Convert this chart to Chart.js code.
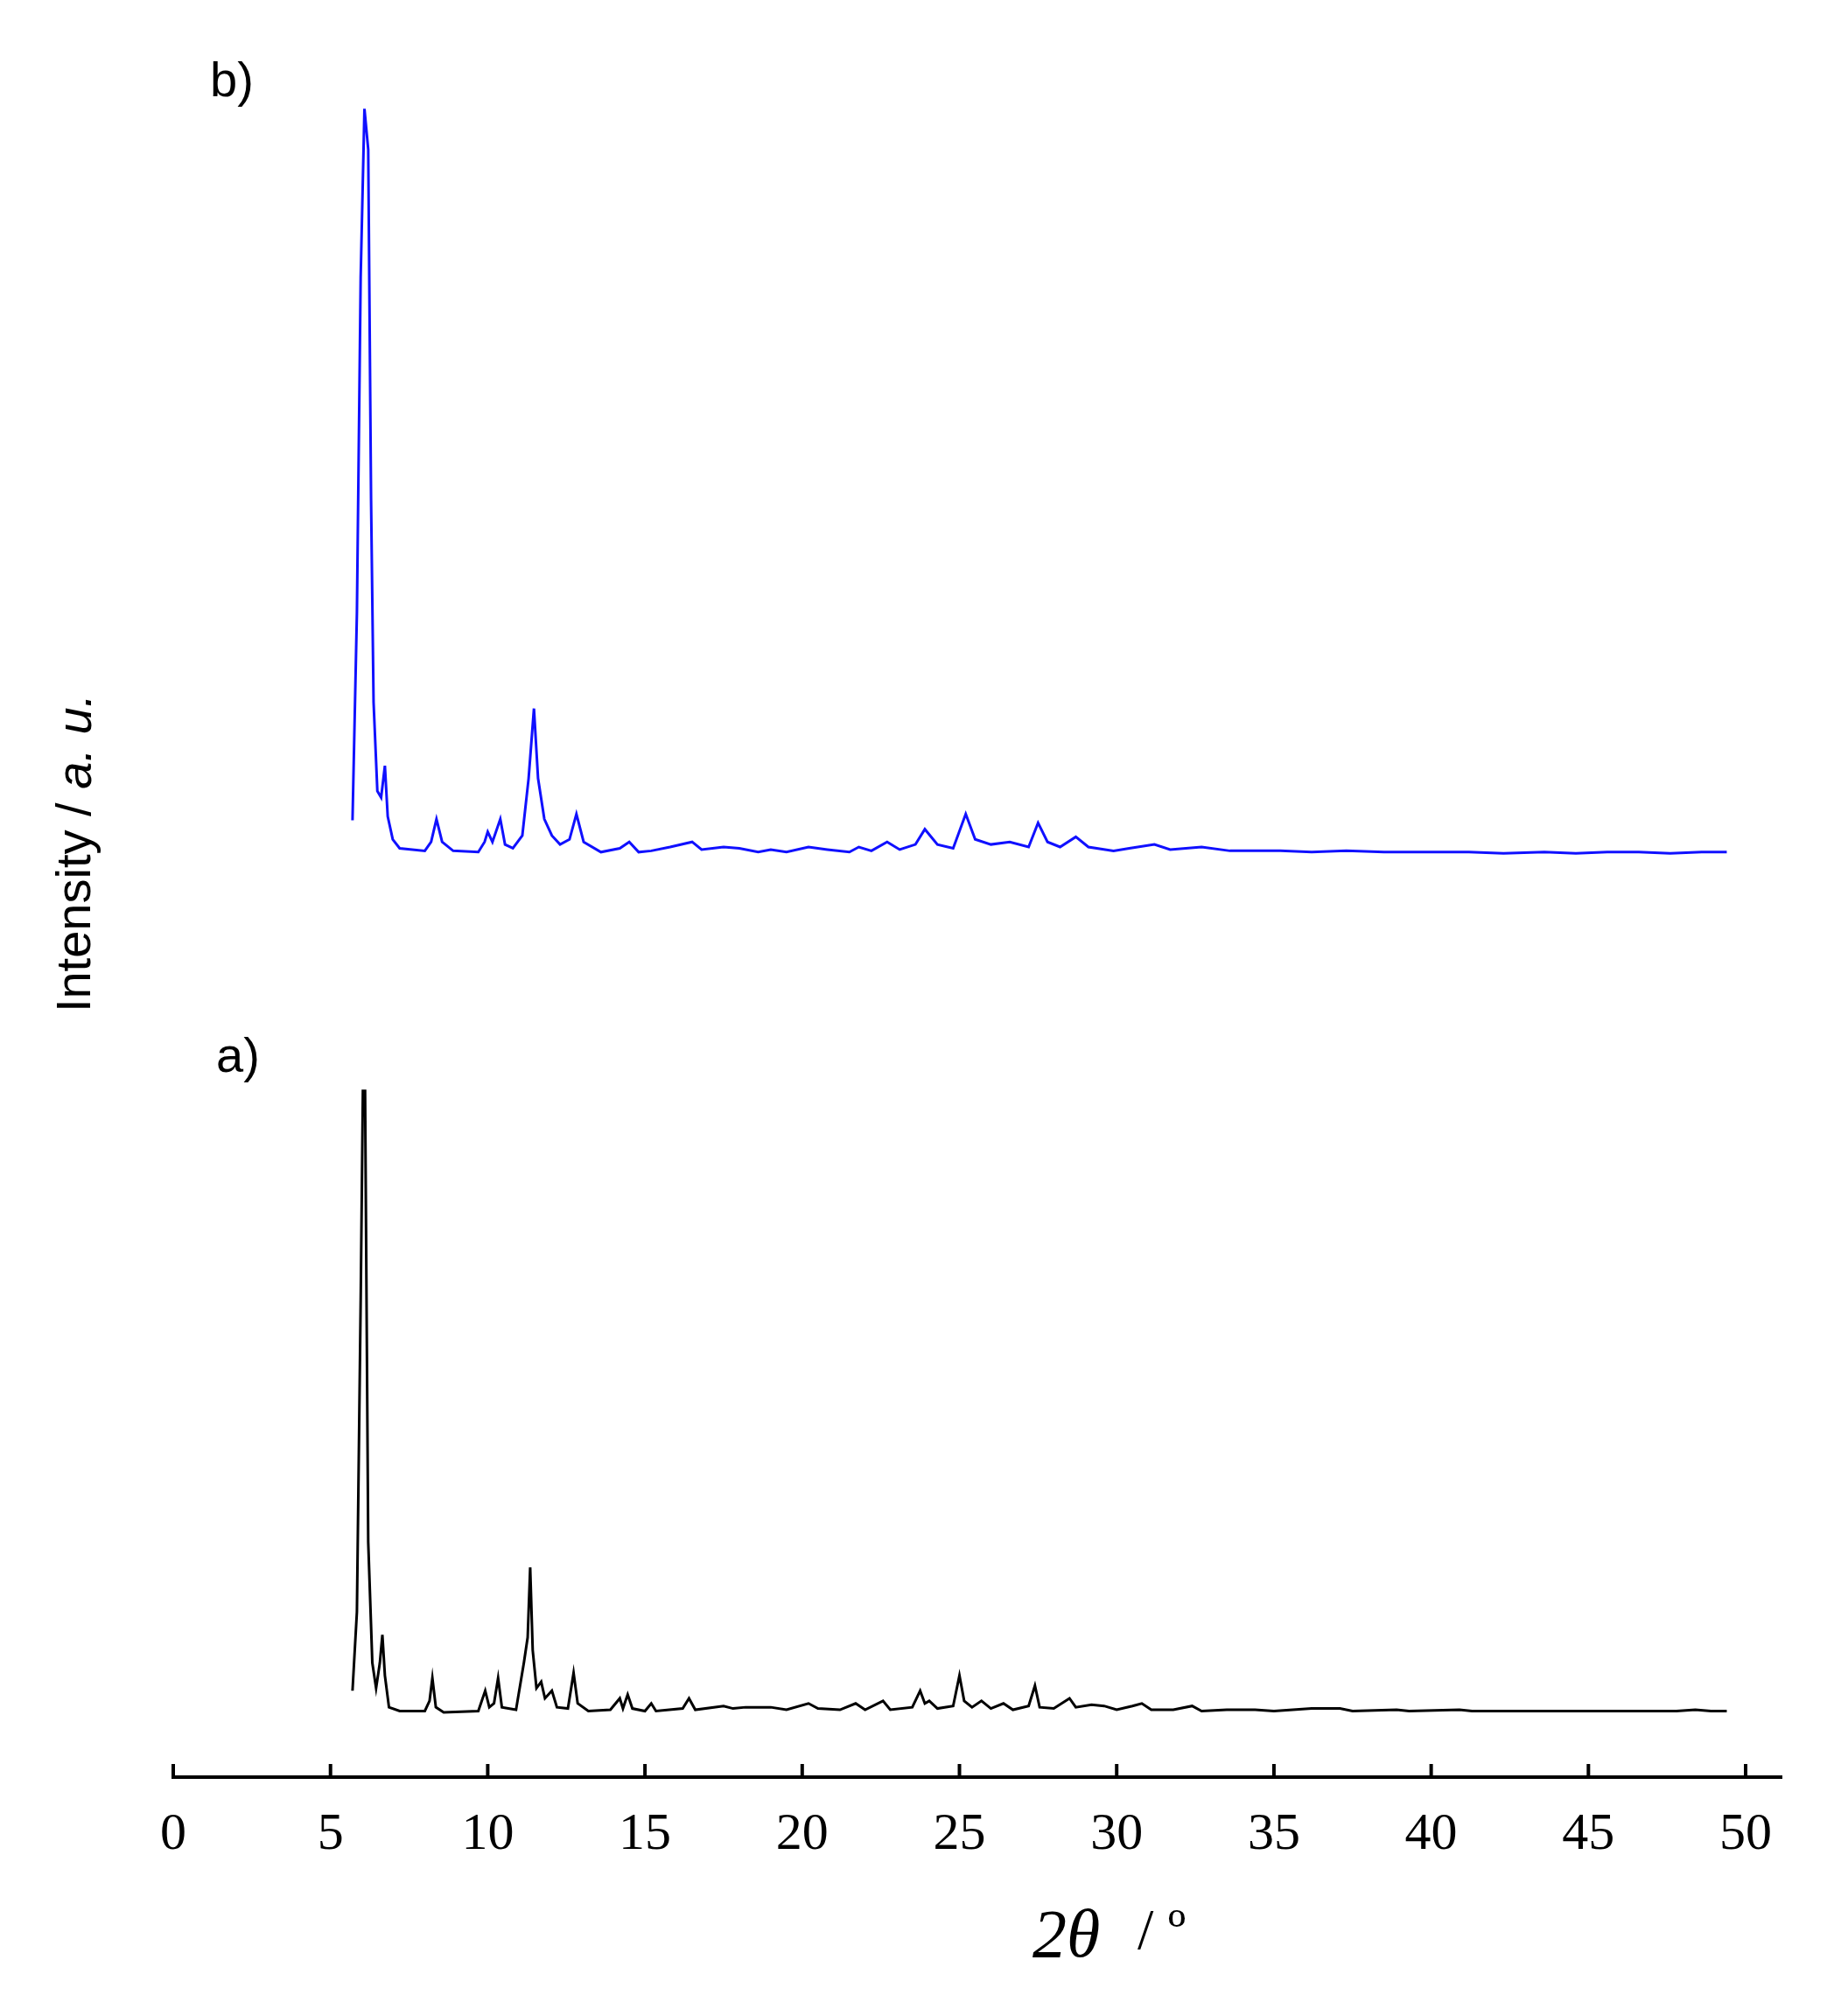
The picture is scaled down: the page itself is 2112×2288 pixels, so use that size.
<!DOCTYPE html>
<html>
<head>
<meta charset="utf-8">
<script src="https://cdn.jsdelivr.net/npm/chart.js@4.4.0/dist/chart.umd.min.js"></script>
<style>
  body { margin: 0; background: #fff; }
  #wrap { width: 2112px; height: 2288px; position: relative; }
</style>
</head>
<body>
<div id="wrap"><canvas id="grafico" width="2112" height="2288"></canvas></div>
<script>
// 2theta positions and intensities (a.u.) for pattern a) (black)
var anguloA = [5.7, 5.84, 5.96, 6.03, 6.1, 6.2, 6.33, 6.45, 6.57, 6.65, 6.73, 6.86, 7.2, 8.0, 8.15, 8.24, 8.35, 8.6, 9.7, 9.92, 10.05, 10.2, 10.33, 10.45, 10.9, 11.15, 11.27, 11.35, 11.43, 11.55, 11.7, 11.82, 12.04, 12.2, 12.55, 12.73, 12.86, 13.2, 13.9, 14.2, 14.3, 14.45, 14.6, 15.0, 15.2, 15.35, 16.2, 16.4, 16.6, 17.5, 17.8, 18.2, 19.0, 19.5, 20.2, 20.5, 21.2, 21.7, 22.0, 22.57, 22.8, 23.5, 23.75, 23.9, 24.04, 24.3, 24.8, 25.0, 25.15, 25.4, 25.7, 26.0, 26.4, 26.7, 27.2, 27.4, 27.55, 28.0, 28.5, 28.7, 29.2, 29.6, 30.0, 30.5, 30.8, 31.1, 31.8, 32.4, 32.7, 33.5, 34.4, 35.0, 36.2, 37.1, 37.5, 38.9, 39.3, 40.9, 41.3, 42.3, 43.5, 44.3, 45.4, 46.4, 47.8, 48.4, 48.9, 49.4];
var intensA = [18, 80, 325, 490, 490, 135, 40, 20, 40, 62, 30, 5, 2, 2, 10, 28, 5, 1, 2, 18, 5, 8, 28, 5, 3, 40, 60, 115, 50, 20, 25, 12, 18, 5, 4, 32, 8, 2, 3, 12, 4, 15, 4, 2, 8, 2, 4, 12, 3, 6, 4, 5, 5, 3, 8, 4, 3, 8, 3, 10, 3, 5, 18, 8, 10, 4, 6, 30, 10, 5, 10, 4, 8, 3, 6, 22, 5, 4, 12, 5, 7, 6, 3, 6, 8, 3, 3, 6, 2, 3, 3, 2, 4, 4, 2, 3, 2, 3, 2, 2, 2, 2, 2, 2, 2, 3, 2, 2];

// 2theta positions and intensities (a.u.) for pattern b) (blue)
var anguloB = [5.7, 5.84, 5.96, 6.08, 6.2, 6.29, 6.37, 6.49, 6.61, 6.73, 6.82, 6.98, 7.2, 8.0, 8.2, 8.37, 8.55, 8.9, 9.7, 9.9, 10.0, 10.15, 10.4, 10.55, 10.8, 11.1, 11.3, 11.47, 11.6, 11.8, 12.04, 12.3, 12.6, 12.82, 13.05, 13.6, 14.2, 14.5, 14.8, 15.2, 15.8, 16.5, 16.8, 17.5, 18.0, 18.6, 19.0, 19.5, 20.2, 20.8, 21.5, 21.8, 22.2, 22.7, 23.1, 23.6, 23.9, 24.3, 24.8, 25.2, 25.5, 26.0, 26.6, 27.2, 27.5, 27.8, 28.2, 28.7, 29.1, 29.9, 30.4, 31.2, 31.7, 32.7, 33.6, 35.2, 36.2, 37.3, 38.5, 40.2, 41.2, 42.3, 43.6, 44.6, 45.6, 46.6, 47.6, 48.6, 49.4];
var intensB = [27, 190, 455, 587, 555, 280, 120, 50, 45, 70, 30, 12, 5, 3, 10, 28, 10, 3, 2, 10, 18, 10, 28, 8, 5, 15, 60, 115, 60, 28, 15, 8, 12, 32, 10, 2, 5, 10, 2, 3, 6, 10, 4, 6, 5, 2, 4, 2, 6, 4, 2, 6, 3, 10, 4, 8, 20, 8, 5, 32, 12, 8, 10, 6, 25, 10, 6, 14, 6, 3, 5, 8, 4, 6, 3, 3, 2, 3, 2, 2, 2, 1, 2, 1, 2, 2, 1, 2, 2];

var deslocamentoB = 676; // vertical offset for stacking pattern b above a
var ticksX = [0, 5, 10, 15, 20, 25, 30, 35, 40, 45, 50];

function pontos(xs, ys, off) {
    return xs.map(function (x, i) { return { x: x, y: ys[i] + off }; });
}

var escala = 2112 / 1440;

var textosPlugin = {
    id: 'textos',
    afterDraw: function (chart) {
        var ctx = chart.ctx;
        var sx = chart.scales.x;
        var base = chart.chartArea.bottom;
        ctx.save();
        // inward tick marks
        ctx.strokeStyle = '#000';
        ctx.lineWidth = 4;
        ticksX.forEach(function (t) {
            var px = sx.getPixelForValue(t);
            ctx.beginPath();
            ctx.moveTo(px, base);
            ctx.lineTo(px, base - 15);
            ctx.stroke();
        });
        // x title
        ctx.fillStyle = '#000';
        ctx.textBaseline = 'middle';
        ctx.textAlign = 'left';
        ctx.font = 'italic 78px "Liberation Serif"';
        ctx.fillText('2\u03B8', 1180, 2215);
        ctx.font = '66px "Liberation Serif"';
        ctx.fillText('/ \u00BA', 1300, 2210);
        // panel labels
        ctx.font = '56px "Liberation Sans"';
        ctx.fillText('b)', 240, 95);
        ctx.fillText('a)', 247, 1210);
        // y title
        ctx.translate(88, 975);
        ctx.rotate(-Math.PI / 2);
        var p1 = 'Intensity / ';
        var p2 = 'a. u.';
        ctx.font = '56px "Liberation Sans"';
        var w1 = ctx.measureText(p1).width;
        ctx.font = 'italic 56px "Liberation Sans"';
        var w2 = ctx.measureText(p2).width;
        var x0 = -(w1 + w2) / 2;
        ctx.font = '56px "Liberation Sans"';
        ctx.fillText(p1, x0, 0);
        ctx.font = 'italic 56px "Liberation Sans"';
        ctx.fillText(p2, x0 + w1, 0);
        ctx.restore();
    }
};

var ctx = document.getElementById('grafico').getContext('2d');
new Chart(ctx, {
    type: 'line',
    data: {
        datasets: [{
            label: 'a)',
            data: pontos(anguloA, intensA, 0),
            borderColor: '#000000',
            borderWidth: 3,
            pointRadius: 0,
            tension: 0
        }, {
            label: 'b)',
            data: pontos(anguloB, intensB, deslocamentoB),
            borderColor: '#1010ff',
            borderWidth: 3,
            pointRadius: 0,
            tension: 0
        }]
    },
    options: {
        responsive: false,
        animation: false,
        layout: { padding: { left: 198, right: 76, top: 88, bottom: 125 } },
        plugins: { legend: { display: false }, tooltip: { enabled: false } },
        scales: {
            x: {
                type: 'linear',
                min: 0,
                max: 51.14,
                afterBuildTicks: function (axis) {
                    axis.ticks = ticksX.map(function (v) { return { value: v }; });
                },
                grid: { display: false, drawTicks: false },
                border: { display: true, color: '#000', width: 4 },
                ticks: {
                    color: '#000',
                    padding: 30,
                    maxRotation: 0,
                    font: { family: 'Liberation Serif', size: 60 }
                }
            },
            y: {
                display: false,
                min: -50,
                max: 1288
            }
        }
    },
    plugins: [textosPlugin]
});
</script>
</body>
</html>
